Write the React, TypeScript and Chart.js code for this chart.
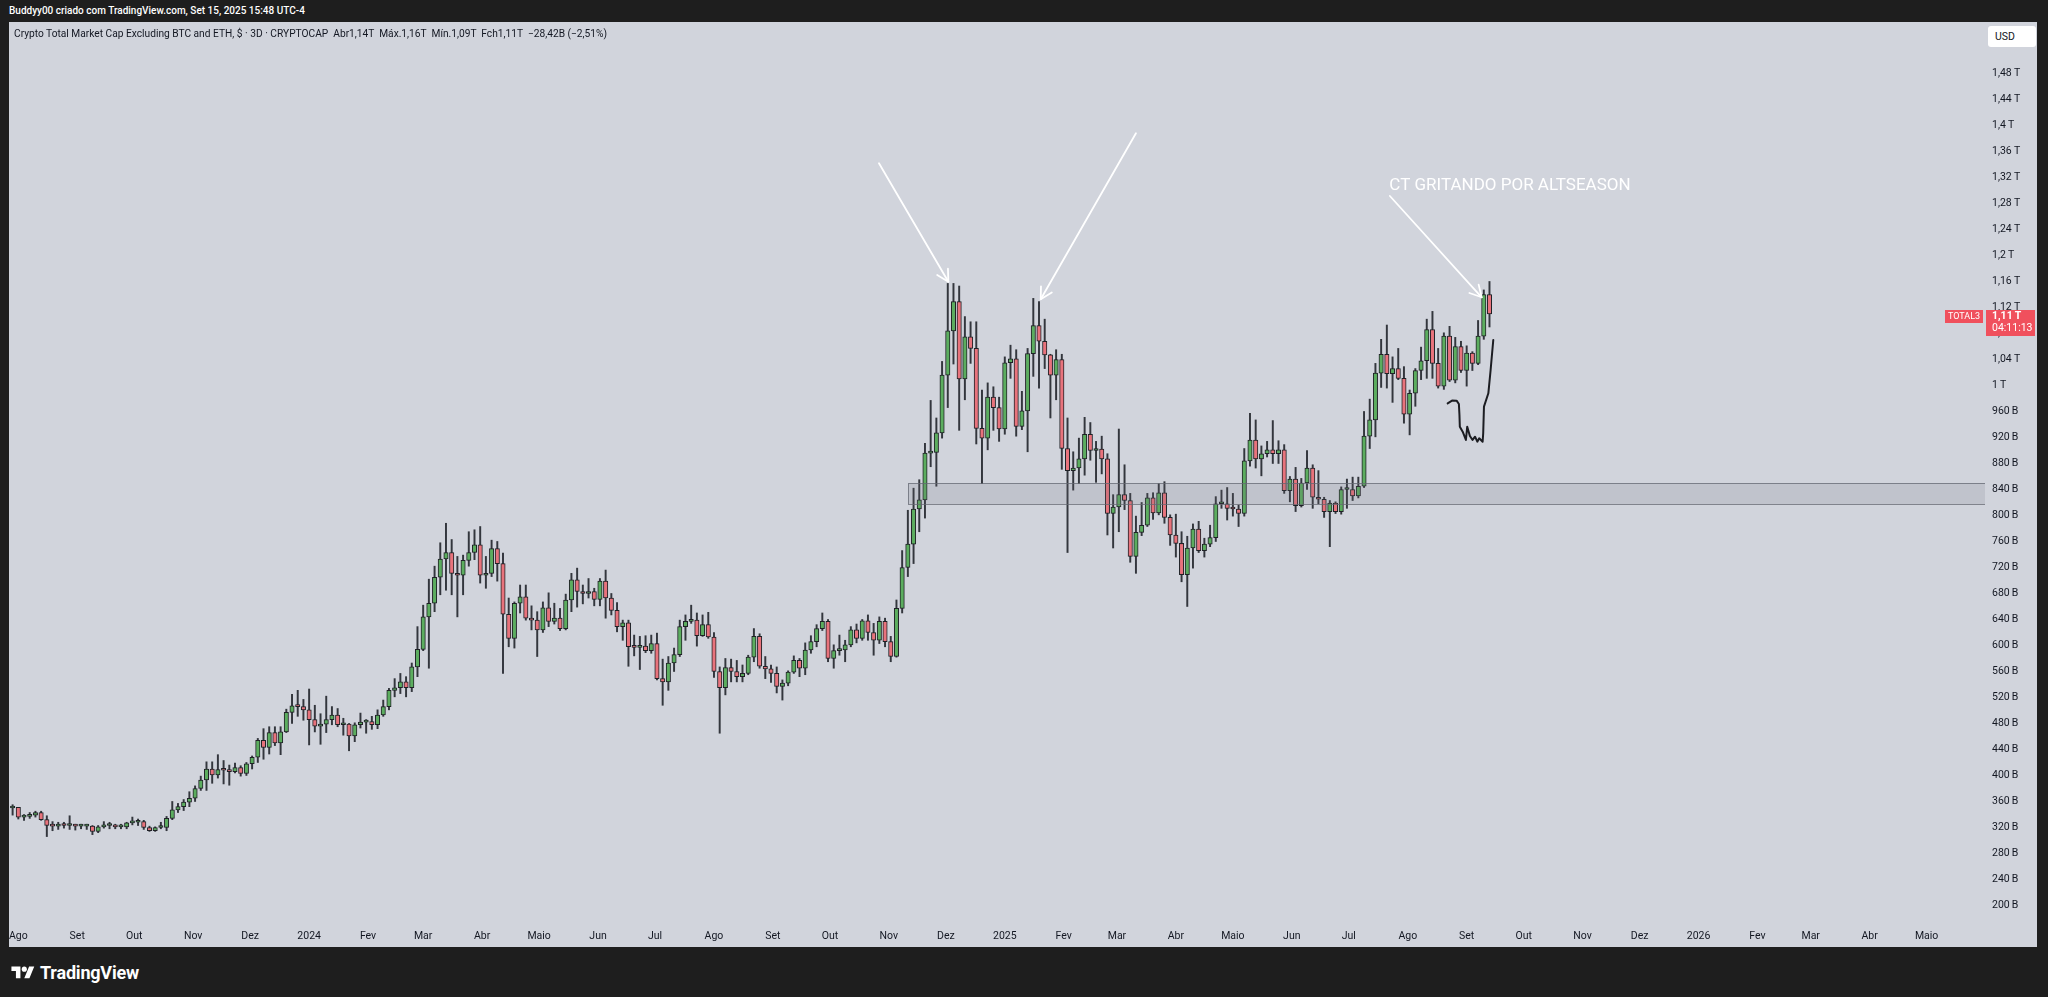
import { useEffect, useRef } from "react";
import { Chart, registerables } from "chart.js";

Chart.register(...registerables);

// ---------- DATA (3-day candles, values in billions USD) ----------
// day offsets are counted from 2023-08-01 (UTC); first candle opens 3 days earlier
const firstCandleDay = -3;
const candlePeriodDays = 3;
const firstOpen = 350;

const closes = [
  351, 336, 337, 339, 343, 332, 323, 322, 324, 323,
  323, 322, 322, 322, 314, 321, 323, 323, 321, 321,
  327, 328, 329, 320, 315, 320, 320, 334, 347, 352,
  359, 365, 380, 393, 410, 401, 409, 408, 406, 412,
  403, 418, 428, 454, 443, 466, 450, 467, 497, 507,
  506, 501, 486, 476, 479, 486, 493, 478, 479, 461,
  478, 482, 483, 478, 493, 506, 531, 535, 544, 535,
  567, 594, 644, 665, 705, 733, 743, 711, 708, 731,
  743, 755, 708, 711, 749, 726, 648, 611, 665, 675,
  642, 639, 624, 658, 637, 642, 626, 670, 701, 683,
  680, 683, 671, 699, 673, 654, 629, 635, 598, 597,
  599, 592, 603, 549, 544, 573, 586, 629, 637, 639,
  615, 632, 613, 560, 535, 566, 560, 552, 557, 582,
  614, 568, 564, 557, 537, 542, 559, 577, 565, 593,
  606, 626, 637, 580, 592, 593, 601, 624, 611, 638,
  620, 608, 637, 606, 583, 657, 720, 756, 810, 824,
  896, 897, 927, 1016, 1084, 1129, 1010, 1075, 1057, 934,
  919, 982, 966, 933, 1035, 1041, 937, 961, 1049, 1092,
  1068, 1047, 1016, 1040, 903, 869, 873, 887, 925, 900,
  902, 887, 803, 813, 832, 823, 737, 774, 785, 827,
  804, 835, 797, 770, 757, 709, 750, 779, 746, 756,
  766, 818, 818, 811, 810, 803, 884, 916, 887, 895,
  901, 895, 901, 838, 856, 815, 850, 873, 828, 825,
  806, 819, 806, 840, 840, 830, 845, 922, 947, 1019,
  1048, 1018, 1026, 1011, 956, 988, 1023, 1038, 1086, 1034,
  999, 1076, 1008, 1060, 1023, 1050, 1034, 1076, 1140, 1110,
];

const highs = [
  355, 351, 340, 343, 345, 345, 338, 329, 328, 328,
  338, 325, 325, 325, 323, 323, 329, 328, 325, 325,
  328, 336, 333, 331, 322, 321, 328, 337, 360, 357,
  363, 375, 384, 399, 421, 421, 432, 423, 416, 419,
  415, 420, 430, 457, 472, 475, 475, 475, 502, 525,
  531, 517, 533, 508, 495, 522, 506, 503, 488, 480,
  481, 496, 486, 491, 501, 516, 534, 549, 557, 552,
  573, 629, 662, 702, 722, 758, 788, 763, 737, 739,
  775, 778, 783, 737, 762, 760, 742, 673, 667, 693,
  693, 661, 652, 667, 681, 665, 657, 679, 711, 719,
  693, 703, 688, 703, 716, 680, 666, 639, 639, 616,
  614, 615, 616, 619, 579, 583, 596, 639, 647, 662,
  650, 647, 651, 620, 567, 580, 579, 577, 570, 585,
  626, 618, 583, 570, 567, 547, 561, 584, 580, 604,
  615, 632, 650, 640, 601, 616, 608, 629, 633, 640,
  647, 634, 644, 642, 614, 670, 746, 808, 842, 855,
  911, 977, 950, 1037, 1157, 1157, 1153, 1106, 1098, 1098,
  993, 1004, 998, 982, 1044, 1062, 1055, 991, 1057, 1134,
  1129, 1102, 1048, 1055, 1048, 950, 898, 919, 951, 943,
  914, 922, 895, 832, 933, 878, 834, 799, 820, 834,
  835, 849, 852, 801, 802, 775, 768, 787, 791, 765,
  785, 829, 839, 843, 834, 816, 903, 957, 947, 907,
  914, 946, 915, 909, 860, 874, 857, 900, 878, 869,
  828, 823, 821, 844, 856, 859, 859, 960, 979, 1034,
  1071, 1093, 1044, 1057, 1029, 993, 1026, 1059, 1102, 1114,
  1057, 1081, 1091, 1074, 1068, 1061, 1052, 1100, 1147, 1160,
];

const lows = [
  339, 333, 331, 334, 336, 331, 306, 315, 317, 319,
  317, 316, 318, 317, 309, 312, 319, 318, 318, 318,
  318, 324, 323, 317, 314, 314, 318, 315, 332, 343,
  346, 352, 360, 377, 377, 388, 396, 387, 385, 404,
  399, 400, 410, 420, 425, 433, 446, 432, 466, 480,
  491, 485, 447, 467, 448, 466, 478, 475, 462, 438,
  452, 473, 465, 471, 472, 491, 501, 521, 526, 521,
  529, 552, 592, 565, 652, 678, 685, 678, 644, 678,
  722, 732, 696, 688, 706, 699, 557, 598, 596, 650,
  639, 624, 583, 620, 629, 633, 623, 624, 652, 659,
  664, 673, 661, 661, 642, 647, 621, 608, 568, 584,
  563, 589, 588, 547, 508, 531, 560, 583, 608, 634,
  599, 614, 611, 551, 465, 524, 544, 544, 544, 555,
  575, 565, 549, 543, 527, 516, 538, 557, 552, 555,
  588, 598, 623, 575, 565, 585, 575, 598, 604, 608,
  608, 585, 603, 598, 575, 582, 650, 706, 726, 775,
  796, 875, 845, 919, 966, 1033, 931, 978, 1034, 910,
  849, 901, 931, 914, 925, 1011, 922, 932, 898, 1014,
  996, 1026, 950, 978, 871, 743, 839, 849, 862, 885,
  851, 864, 770, 750, 775, 809, 728, 711, 769, 783,
  794, 801, 788, 754, 736, 698, 660, 719, 743, 736,
  752, 760, 811, 793, 799, 783, 799, 876, 873, 861,
  890, 880, 880, 834, 821, 806, 813, 840, 811, 818,
  797, 752, 803, 802, 811, 823, 827, 843, 903, 921,
  997, 996, 974, 1009, 942, 924, 968, 1009, 1011, 1011,
  996, 994, 1006, 1004, 1020, 999, 1023, 1032, 1071, 1090,
];

const monthTickLabels = [
  "Ago", "Set", "Out", "Nov", "Dez", "2024", "Fev", "Mar", "Abr", "Maio", "Jun", "Jul",
  "Ago", "Set", "Out", "Nov", "Dez", "2025", "Fev", "Mar", "Abr", "Maio", "Jun", "Jul",
  "Ago", "Set", "Out", "Nov", "Dez", "2026", "Fev", "Mar", "Abr", "Maio",
];

const priceTicks = [
  200, 240, 280, 320, 360, 400, 440, 480, 520, 560, 600, 640, 680, 720, 760, 800, 840,
  880, 920, 960, 1000, 1040, 1080, 1120, 1160, 1200, 1240, 1280, 1320, 1360, 1400, 1440, 1480,
];

// axis ranges (days from 2023-08-01, billions)
const xMin = -4.9;
const xMax = 1034.7;
const yMin = 171.5;
const yMax = 1559.2;

// ---------- annotations in data space: [day, value] ----------
const supportZone = { fromDay: 467.9, low: 817, high: 850.5 };
const arrows: [number, number][][] = [
  [[452.8, 1342], [489.3, 1159.7]],
  [[588, 1388], [537.9, 1132.6]],
  [[721.6, 1291.5], [769.9, 1135.7]],
];
const noteText = "CT GRITANDO POR ALTSEASON";
const noteAnchor: [number, number] = [721.3, 1307.5];
const handStroke: [number, number][] = [
  [752.0, 972.5], [754.3, 976.8], [756.7, 976.6], [757.9, 971.5], [758.2, 955], [758.4, 936.6],
  [759.9, 928.9], [761.6, 916.2], [762.3, 936.6], [763.7, 922.3], [765.1, 916.2],
  [766.4, 921.2], [767.6, 913.5], [768.6, 918.8], [770.4, 913.5], [770.7, 926.5],
  [771.1, 967.4], [773.4, 988], [774.6, 1023.8], [776.0, 1070],
];

const symbolName = "TOTAL3";
const countdown = "04:11:13";

// ---------- helpers ----------
const dayOf = (y: number, m: number) => (Date.UTC(y, m, 1) - Date.UTC(2023, 7, 1)) / 86400000;
const monthDays = monthTickLabels.map((_, k) => dayOf(2023, 7 + k));

const fmtPrice = (v: number) => {
  if (v >= 1000) {
    const t = Math.round(v / 10) / 100;
    return String(t).replace(".", ",") + "\u2009T";
  }
  return Math.round(v) + "\u2009B";
};

const UP = "#5cad5f";
const DOWN = "#e8737c";
const BORDER = "#1f2126";
const WICK = "#33363d";
const FONT = "Roboto";

const zeroPad = (s: any) => {
  s.paddingTop = 0;
  s.paddingBottom = 0;
  s.paddingLeft = 0;
  s.paddingRight = 0;
};

export default function App() {
  const canvasRef = useRef<HTMLCanvasElement | null>(null);

  useEffect(() => {
    const canvas = canvasRef.current;
    if (!canvas) return;

    const days = closes.map((_, i) => firstCandleDay + i * candlePeriodDays);
    const opens = closes.map((_, i) => (i === 0 ? firstOpen : closes[i - 1]));
    const colors = closes.map((c, i) => (c >= opens[i] ? UP : DOWN));

    const overlay = {
      id: "overlay",
      afterDatasetsDraw(chart: any) {
        const { ctx, chartArea, scales } = chart;
        const x = scales.x;
        const y = scales.y;
        const px = (d: number) => x.getPixelForValue(d);
        const py = (v: number) => y.getPixelForValue(v);
        ctx.save();
        ctx.beginPath();
        ctx.rect(chartArea.left, chartArea.top, chartArea.right - chartArea.left, chartArea.bottom - chartArea.top);
        ctx.clip();

        // support zone
        const zx0 = Math.round(px(supportZone.fromDay));
        const zy0 = Math.round(py(supportZone.high));
        const zy1 = Math.round(py(supportZone.low));
        ctx.fillStyle = "rgba(110,114,126,0.17)";
        ctx.fillRect(zx0, zy0, chartArea.right - zx0, zy1 - zy0);
        ctx.strokeStyle = "rgba(100,104,114,0.75)";
        ctx.lineWidth = 1;
        ctx.strokeRect(zx0 + 0.5, zy0 + 0.5, chartArea.right - zx0 + 2, zy1 - zy0);

        // arrows
        ctx.strokeStyle = "#ffffff";
        ctx.lineWidth = 1.8;
        ctx.lineCap = "round";
        ctx.lineJoin = "round";
        for (const [a, b] of arrows) {
          const x0 = px(a[0]), y0 = py(a[1]), x1 = px(b[0]), y1 = py(b[1]);
          ctx.beginPath();
          ctx.moveTo(x0, y0);
          ctx.lineTo(x1, y1);
          ctx.stroke();
          const ang = Math.atan2(y1 - y0, x1 - x0);
          const len = 13;
          ctx.beginPath();
          ctx.moveTo(x1 - len * Math.cos(ang - 0.5), y1 - len * Math.sin(ang - 0.5));
          ctx.lineTo(x1, y1);
          ctx.lineTo(x1 - len * Math.cos(ang + 0.5), y1 - len * Math.sin(ang + 0.5));
          ctx.stroke();
        }

        // note text
        ctx.fillStyle = "#ffffff";
        ctx.font = `17px ${FONT}`;
        ctx.textAlign = "left";
        ctx.textBaseline = "middle";
        ctx.fillText(noteText, px(noteAnchor[0]), py(noteAnchor[1]));

        // hand-drawn stroke
        ctx.strokeStyle = "#1c1d22";
        ctx.lineWidth = 2;
        ctx.beginPath();
        handStroke.forEach(([d, v], i) => {
          if (i === 0) ctx.moveTo(px(d), py(v));
          else ctx.lineTo(px(d), py(v));
        });
        ctx.stroke();
        ctx.restore();
      },
      afterDraw(chart: any) {
        const { ctx, chartArea, scales } = chart;
        const last = closes[closes.length - 1];
        const yy = Math.round(scales.y.getPixelForValue(last));
        const red = "#f0505d";
        ctx.save();
        // symbol tag
        ctx.fillStyle = red;
        ctx.fillRect(chartArea.right - 40, yy - 4, 38, 13);
        ctx.fillStyle = "#ffffff";
        ctx.font = `9px ${FONT}`;
        ctx.textAlign = "center";
        ctx.textBaseline = "middle";
        ctx.fillText(symbolName, chartArea.right - 21, yy + 2.5);
        // price tag
        ctx.fillStyle = red;
        ctx.fillRect(chartArea.right + 1, yy - 4, 49, 26);
        ctx.fillStyle = "#ffffff";
        ctx.textAlign = "left";
        ctx.font = `bold 10.5px ${FONT}`;
        ctx.fillText(fmtPrice(last), chartArea.right + 7, yy + 2.5);
        ctx.font = `10.5px ${FONT}`;
        ctx.fillText(countdown, chartArea.right + 7, yy + 14.5);
        ctx.restore();
      },
    };

    const chart = new Chart(canvas, {
      type: "bar",
      data: {
        datasets: [
          {
            label: "wicks",
            data: days.map((d, i) => ({ x: d, y: [lows[i], highs[i]] })) as any,
            backgroundColor: WICK,
            borderWidth: 0,
            barThickness: 1.3,
            grouped: false,
            order: 2,
          } as any,
          {
            label: "bodies",
            data: days.map((d, i) => ({ x: d, y: [opens[i], closes[i]] })) as any,
            backgroundColor: colors,
            borderColor: BORDER,
            borderWidth: 1,
            borderSkipped: false,
            barThickness: 4.4,
            minBarLength: 2,
            grouped: false,
            order: 1,
          } as any,
        ],
      },
      options: {
        animation: false,
        responsive: false,
        maintainAspectRatio: false,
        layout: { padding: 0 },
        events: [],
        plugins: { legend: { display: false }, tooltip: { enabled: false } },
        scales: {
          x: {
            type: "linear",
            min: xMin,
            max: xMax,
            offset: false,
            grid: { display: false, drawTicks: false },
            border: { display: false },
            afterBuildTicks: (s: any) => {
              s.ticks = monthDays.map((v) => ({ value: v }));
            },
            afterFit: (s: any) => {
              s.height = 23;
              zeroPad(s);
            },
            ticks: {
              autoSkip: false,
              maxRotation: 0,
              minRotation: 0,
              padding: 6,
              color: "#131722",
              font: { family: FONT, size: 10.5 },
              callback: (_v: any, i: number) => monthTickLabels[i],
            },
          },
          y: {
            type: "linear",
            position: "right",
            min: yMin,
            max: yMax,
            grid: { display: false, drawTicks: false },
            border: { display: false },
            afterBuildTicks: (s: any) => {
              s.ticks = priceTicks.map((v) => ({ value: v }));
            },
            afterFit: (s: any) => {
              s.width = 52;
              zeroPad(s);
            },
            ticks: {
              padding: 7,
              color: "#131722",
              font: { family: FONT, size: 10.5 },
              callback: (v: any) => fmtPrice(Number(v)),
            },
          },
        },
      } as any,
      plugins: [overlay],
    });

    return () => chart.destroy();
  }, []);

  return (
    <div
      style={{
        position: "fixed",
        left: 0,
        top: 0,
        width: 2048,
        height: 997,
        background: "#1e1e1e",
        overflow: "hidden",
        fontFamily: FONT,
      }}
    >
      <div
        style={{
          position: "absolute",
          left: 9,
          top: 5,
          color: "#ffffff",
          fontSize: 10,
          fontWeight: 500,
          whiteSpace: "nowrap",
        }}
      >
        Buddyy00 criado com TradingView.com, Set 15, 2025 15:48 UTC-4
      </div>
      <div
        style={{
          position: "absolute",
          left: 9,
          top: 22,
          width: 2028,
          height: 925,
          background: "#d1d4dc",
          overflow: "hidden",
        }}
      >
        <canvas ref={canvasRef} width={2028} height={925} style={{ width: 2028, height: 925, display: "block" }} />
        <div
          style={{
            position: "absolute",
            left: 5,
            top: 6,
            color: "#131722",
            fontSize: 10.2,
            whiteSpace: "pre",
          }}
        >
          {"Crypto Total Market Cap Excluding BTC and ETH, $ · 3D · CRYPTOCAP  Abr1,14T  Máx.1,16T  Mín.1,09T  Fch1,11T  −28,42B (−2,51%)"}
        </div>
        <div
          style={{
            position: "absolute",
            left: 1979,
            top: 4,
            width: 48,
            height: 21,
            background: "#ffffff",
            borderRadius: 3,
            color: "#131722",
            fontSize: 10.5,
            lineHeight: "21px",
            paddingLeft: 7,
            boxSizing: "border-box",
          }}
        >
          USD
        </div>
      </div>
      <div
        style={{
          position: "absolute",
          left: 10,
          top: 962,
          display: "flex",
          alignItems: "center",
          color: "#ffffff",
        }}
      >
        <svg width="26" height="18" viewBox="0 0 36 28">
          <path d="M14 22H7V11H0V4h14v18zM28 22h-8l7.5-18h8L28 22z" fill="#ffffff" />
          <circle cx="20" cy="8" r="4" fill="#ffffff" />
        </svg>
        <span style={{ marginLeft: 4, fontSize: 18, fontWeight: 700, letterSpacing: -0.2 }}>TradingView</span>
      </div>
    </div>
  );
}
